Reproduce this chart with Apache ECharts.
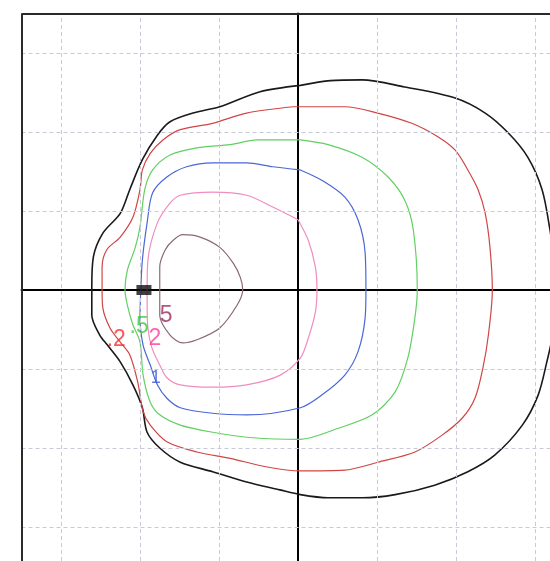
<!DOCTYPE html>
<html>
<head>
<meta charset="utf-8">
<script src="https://cdn.jsdelivr.net/npm/echarts@6/dist/echarts.min.js"></script>
<style>
  html, body { margin: 0; padding: 0; background: #fff; }
  #chart { width: 550px; height: 561px; }
</style>
</head>
<body>
<div id="chart"></div>
<script>
// contour levels, one closed outline each (grid cell = 1 unit, origin at the cross)
const levelNames = ['.1', '.2', '.5', '1', '2', '5'];
const levelColors = ['#1a1a1a', '#d04545', '#62d062', '#4a66d8', '#f08cc0', '#8a6878'];

const contour01 = [
  [0.03, 2.59], [-0.48, 2.51], [-0.99, 2.32], [-1.33, 2.24], [-1.62, 2.13], [-1.78, 1.96],
  [-1.97, 1.65], [-2.13, 1.27], [-2.25, 0.97], [-2.47, 0.72], [-2.59, 0.42], [-2.61, 0.04],
  [-2.61, -0.32], [-2.51, -0.57], [-2.41, -0.70], [-2.25, -0.91], [-2.09, -1.20], [-1.97, -1.49],
  [-1.91, -1.80], [-1.75, -2.00], [-1.49, -2.18], [-1.08, -2.30], [-0.65, -2.43], [-0.23, -2.53],
  [0.03, -2.59], [0.38, -2.63], [0.81, -2.63], [1.23, -2.59], [1.73, -2.47], [2.15, -2.30],
  [2.49, -2.09], [2.84, -1.71], [3.04, -1.33], [3.15, -0.91], [3.22, -0.57], [3.25, 0],
  [3.22, 0.51], [3.19, 0.76], [3.09, 1.27], [2.91, 1.68], [2.66, 1.99], [2.37, 2.24],
  [1.99, 2.43], [1.35, 2.57], [0.81, 2.66], [0.41, 2.65], [0.03, 2.59]
];
const contour02 = [
  [-0.06, 2.32], [-0.65, 2.24], [-1.08, 2.11], [-1.49, 2.03], [-1.71, 1.90], [-1.87, 1.73],
  [-1.97, 1.52], [-2.00, 1.27], [-2.09, 0.92], [-2.25, 0.67], [-2.42, 0.51], [-2.48, 0.29],
  [-2.48, 0], [-2.47, -0.23], [-2.38, -0.48], [-2.25, -0.66], [-2.13, -0.82], [-2.03, -1.16],
  [-1.96, -1.54], [-1.87, -1.71], [-1.66, -1.92], [-1.28, -2.05], [-0.86, -2.13], [-0.39, -2.24],
  [0.03, -2.29], [0.59, -2.28], [1.01, -2.18], [1.48, -2.05], [1.82, -1.84], [2.08, -1.62],
  [2.24, -1.37], [2.34, -0.99], [2.41, -0.57], [2.46, 0], [2.43, 0.54], [2.37, 0.97],
  [2.28, 1.27], [2.15, 1.52], [1.99, 1.77], [1.77, 1.94], [1.44, 2.11], [1.01, 2.24],
  [0.59, 2.32], [-0.06, 2.32]
];
const contour05 = [
  [0.03, 1.90], [-0.52, 1.90], [-0.86, 1.84], [-1.28, 1.80], [-1.62, 1.71], [-1.84, 1.52],
  [-1.94, 1.27], [-2.00, 0.80], [-2.06, 0.54], [-2.16, 0.25], [-2.19, 0], [-2.16, -0.19],
  [-2.09, -0.44], [-2.00, -0.66], [-1.96, -1.08], [-1.87, -1.42], [-1.75, -1.58], [-1.49, -1.71],
  [-1.08, -1.80], [-0.57, -1.87], [0.03, -1.89], [0.51, -1.75], [0.94, -1.58], [1.23, -1.29],
  [1.39, -0.86], [1.48, -0.35], [1.51, 0], [1.46, 0.76], [1.35, 1.14], [1.14, 1.43],
  [0.81, 1.68], [0.38, 1.84], [0.03, 1.90]
];
const contour1 = [
  [0.03, 1.52], [-0.32, 1.56], [-0.65, 1.61], [-1.08, 1.61], [-1.41, 1.56], [-1.66, 1.43],
  [-1.84, 1.23], [-1.91, 0.85], [-1.97, 0.38], [-1.99, 0], [-2.00, -0.35], [-1.96, -0.70],
  [-1.87, -0.95], [-1.78, -1.20], [-1.66, -1.37], [-1.49, -1.49], [-1.08, -1.56], [-0.65, -1.58],
  [0.03, -1.49], [0.30, -1.33], [0.59, -1.08], [0.76, -0.78], [0.85, -0.35], [0.86, 0],
  [0.85, 0.47], [0.76, 0.89], [0.59, 1.18], [0.30, 1.39], [0.03, 1.52]
];
const contour2 = [
  [0, 0.89], [-0.32, 1.05], [-0.65, 1.20], [-1.08, 1.24], [-1.49, 1.20], [-1.62, 1.10],
  [-1.78, 0.85], [-1.90, 0.38], [-1.91, 0], [-1.91, -0.15], [-1.90, -0.48], [-1.85, -0.73],
  [-1.75, -0.95], [-1.66, -1.11], [-1.49, -1.20], [-1.08, -1.23], [-0.65, -1.20], [-0.23, -1.08],
  [0.03, -0.86], [0.13, -0.61], [0.22, -0.28], [0.24, 0], [0.22, 0.29], [0.13, 0.63], [0, 0.89]
];
const contour5 = [
  [-1.75, 0], [-1.75, 0.29], [-1.68, 0.51], [-1.58, 0.63], [-1.46, 0.70], [-1.24, 0.67],
  [-0.99, 0.54], [-0.82, 0.34], [-0.73, 0.16], [-0.70, 0], [-0.77, -0.19], [-0.99, -0.48],
  [-1.28, -0.63], [-1.46, -0.67], [-1.62, -0.57], [-1.75, -0.32], [-1.75, 0]
];
const contours = [contour01, contour02, contour05, contour1, contour2, contour5];

// level labels near the source
const labelTexts = ['.2', '.5', '2', '5', '1'];
const labelPos = [[-2.30, -0.63], [-2.01, -0.46], [-1.81, -0.61], [-1.67, -0.32], [-1.80, -1.11]];
const labelColors = ['#ff2a2a', '#3ccc3c', '#ff3c9a', '#9a2c5c', '#3a5ad8'];
const labelSizes = [23, 23, 23, 23, 18];

// source marker
const sourcePos = [-1.95, 0];

// dashed reference grid and the visible frame edges
const gridTicks = [-3, -2, -1, 1, 2, 3];
const xRange = [-3.5, 3.19];
const yRange = [-3.43, 3.5];

const chart = echarts.init(document.getElementById('chart'));

const series = contours.map((pts, i) => ({
  name: levelNames[i],
  type: 'line',
  data: pts,
  smooth: 0.3,
  showSymbol: false,
  symbol: 'none',
  silent: true,
  z: 3,
  lineStyle: { color: levelColors[i], width: i === 0 ? 1.6 : 1.2 }
}));

// grid lines
series.push({
  type: 'line',
  data: [],
  silent: true,
  z: 1,
  markLine: {
    silent: true,
    symbol: 'none',
    label: { show: false },
    lineStyle: { color: '#c8cad8', width: 1, type: [4, 3] },
    data: gridTicks.map(t => ({ xAxis: t })).concat(gridTicks.map(t => ({ yAxis: t })))
  }
});

// frame (left and top only, the rest is cut off)
series.push({
  type: 'line',
  data: [],
  silent: true,
  z: 4,
  markLine: {
    silent: true,
    symbol: 'none',
    label: { show: false },
    lineStyle: { color: '#2a2a2a', width: 2, type: 'solid' },
    data: [{ xAxis: xRange[0] }, { yAxis: yRange[1] }]
  }
});

// labels
series.push({
  type: 'scatter',
  symbolSize: 0,
  silent: true,
  z: 5,
  data: labelPos.map((p, i) => ({
    value: p,
    label: {
      show: true,
      position: 'inside',
      formatter: labelTexts[i],
      color: labelColors[i],
      fontSize: labelSizes[i],
      fontFamily: 'Liberation Sans, Arial, sans-serif'
    }
  }))
});

// source
series.push({
  type: 'scatter',
  data: [sourcePos],
  symbol: 'rect',
  symbolSize: [15, 10],
  silent: true,
  z: 6,
  itemStyle: { color: '#111' }
});

const option = {
  animation: false,
  backgroundColor: '#fff',
  grid: {
    left: 21.5,
    top: 13.5,
    right: 0,
    bottom: 0,
    show: false
  },
  xAxis: {
    type: 'value',
    min: xRange[0],
    max: xRange[1],
    axisLine: { onZero: true, lineStyle: { color: '#000', width: 2 } },
    axisTick: { show: false },
    axisLabel: { show: false },
    splitLine: { show: false }
  },
  yAxis: {
    type: 'value',
    min: yRange[0],
    max: yRange[1],
    axisLine: { onZero: true, lineStyle: { color: '#000', width: 2 } },
    axisTick: { show: false },
    axisLabel: { show: false },
    splitLine: { show: false }
  },
  series: series
};

chart.setOption(option);
</script>
</body>
</html>
